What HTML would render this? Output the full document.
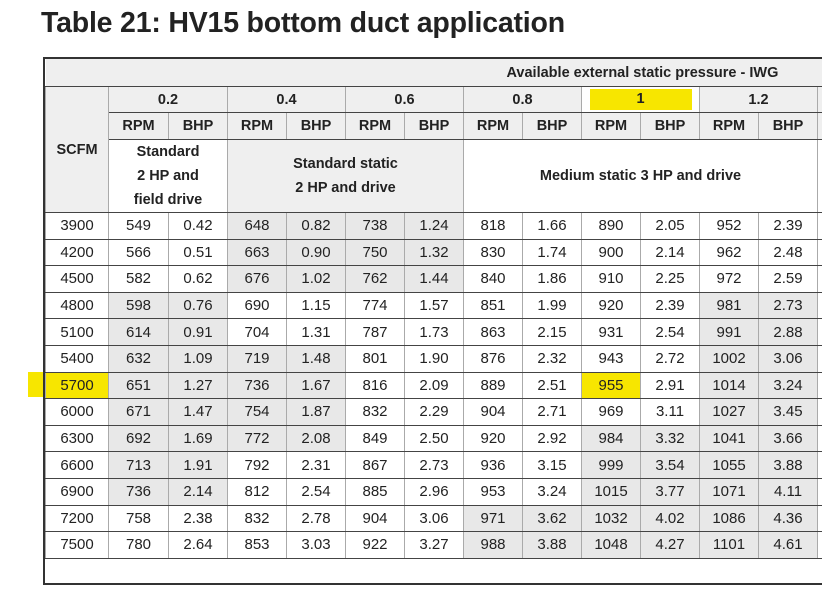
<!DOCTYPE html>
<html><head><meta charset="utf-8"><style>
html,body{margin:0;padding:0;background:#fff;width:822px;height:603px;overflow:hidden;font-family:"Liberation Sans",sans-serif;color:#222}
h1{position:absolute;left:41px;top:7px;margin:0;font-size:28.5px;font-weight:bold;color:#222;letter-spacing:-0.2px}
.wrap{position:absolute;left:43px;top:57px;width:900px;height:528px;border:2px solid #333;border-right:none;box-sizing:border-box;background:#fff}
table{position:absolute;left:0;top:0;border-collapse:collapse;table-layout:fixed;width:830px}
td{border-left:1px solid #aaa;border-right:1px solid #aaa;border-bottom:1.5px solid #444;text-align:center;padding:0;font-size:15px;color:#222;overflow:hidden;white-space:nowrap}
.h td,td.h{font-weight:bold;font-size:14.5px}
tr.top td{height:27px;background:#efefef;text-align:right;padding-right:0;border-left:none}
tr.p td{height:25px;background:#efefef}
tr.r td{height:26px;background:#efefef}
tr.d td{height:25.6px}
.g{background:#e8e8e8}
.y{background:#f7e600}
.desc{white-space:normal;line-height:24px;font-weight:bold;font-size:14.5px}
.hl{position:absolute;left:28px;top:372px;width:80px;height:25px;background:#f7e600}
</style></head><body>
<div class="hl"></div>
<h1>Table 21: HV15 bottom duct application</h1>
<div class="wrap">
<table>
<colgroup><col style="width:63px"><col style="width:60px"><col style="width:59px"><col style="width:59px"><col style="width:59px"><col style="width:59px"><col style="width:59px"><col style="width:59px"><col style="width:59px"><col style="width:59px"><col style="width:59px"><col style="width:59px"><col style="width:59px"><col style="width:60px"></colgroup>
<tr class="top h"><td colspan="14" style="text-align:left;padding-left:461px">Available external static pressure - IWG</td></tr>
<tr class="p h"><td rowspan="3" style="background:#efefef;border-bottom:1.5px solid #444">SCFM</td><td colspan="2">0.2</td><td colspan="2">0.4</td><td colspan="2">0.6</td><td colspan="2">0.8</td><td colspan="2" style="background:#fff"><span style="display:inline-block;background:#f7e600;width:102px;height:21px;line-height:21px">1</span></td><td colspan="2">1.2</td><td></td></tr>
<tr class="r h"><td>RPM</td><td>BHP</td><td>RPM</td><td>BHP</td><td>RPM</td><td>BHP</td><td>RPM</td><td>BHP</td><td>RPM</td><td>BHP</td><td>RPM</td><td>BHP</td><td></td></tr>
<tr><td colspan="2" class="desc" style="height:72px;background:#fff">Standard<br>2 HP and<br>field drive</td><td colspan="4" class="desc" style="background:#efefef">Standard static<br>2 HP and drive</td><td colspan="6" class="desc" style="background:#fff">Medium static 3 HP and drive</td><td style="background:#fff"></td></tr>
<tr class="d"><td>3900</td><td>549</td><td>0.42</td><td class="g">648</td><td class="g">0.82</td><td class="g">738</td><td class="g">1.24</td><td>818</td><td>1.66</td><td>890</td><td>2.05</td><td>952</td><td>2.39</td><td></td></tr>
<tr class="d"><td>4200</td><td>566</td><td>0.51</td><td class="g">663</td><td class="g">0.90</td><td class="g">750</td><td class="g">1.32</td><td>830</td><td>1.74</td><td>900</td><td>2.14</td><td>962</td><td>2.48</td><td></td></tr>
<tr class="d"><td>4500</td><td>582</td><td>0.62</td><td class="g">676</td><td class="g">1.02</td><td class="g">762</td><td class="g">1.44</td><td>840</td><td>1.86</td><td>910</td><td>2.25</td><td>972</td><td>2.59</td><td></td></tr>
<tr class="d"><td>4800</td><td class="g">598</td><td class="g">0.76</td><td>690</td><td>1.15</td><td>774</td><td>1.57</td><td>851</td><td>1.99</td><td>920</td><td>2.39</td><td class="g">981</td><td class="g">2.73</td><td></td></tr>
<tr class="d"><td>5100</td><td class="g">614</td><td class="g">0.91</td><td>704</td><td>1.31</td><td>787</td><td>1.73</td><td>863</td><td>2.15</td><td>931</td><td>2.54</td><td class="g">991</td><td class="g">2.88</td><td></td></tr>
<tr class="d"><td>5400</td><td class="g">632</td><td class="g">1.09</td><td class="g">719</td><td class="g">1.48</td><td>801</td><td>1.90</td><td>876</td><td>2.32</td><td>943</td><td>2.72</td><td class="g">1002</td><td class="g">3.06</td><td></td></tr>
<tr class="d"><td class="y">5700</td><td class="g">651</td><td class="g">1.27</td><td class="g">736</td><td class="g">1.67</td><td>816</td><td>2.09</td><td>889</td><td>2.51</td><td class="y">955</td><td>2.91</td><td class="g">1014</td><td class="g">3.24</td><td></td></tr>
<tr class="d"><td>6000</td><td class="g">671</td><td class="g">1.47</td><td class="g">754</td><td class="g">1.87</td><td>832</td><td>2.29</td><td>904</td><td>2.71</td><td>969</td><td>3.11</td><td class="g">1027</td><td class="g">3.45</td><td></td></tr>
<tr class="d"><td>6300</td><td class="g">692</td><td class="g">1.69</td><td class="g">772</td><td class="g">2.08</td><td>849</td><td>2.50</td><td>920</td><td>2.92</td><td class="g">984</td><td class="g">3.32</td><td class="g">1041</td><td class="g">3.66</td><td></td></tr>
<tr class="d"><td>6600</td><td class="g">713</td><td class="g">1.91</td><td>792</td><td>2.31</td><td>867</td><td>2.73</td><td>936</td><td>3.15</td><td class="g">999</td><td class="g">3.54</td><td class="g">1055</td><td class="g">3.88</td><td></td></tr>
<tr class="d"><td>6900</td><td class="g">736</td><td class="g">2.14</td><td>812</td><td>2.54</td><td>885</td><td>2.96</td><td>953</td><td>3.24</td><td class="g">1015</td><td class="g">3.77</td><td class="g">1071</td><td class="g">4.11</td><td></td></tr>
<tr class="d"><td>7200</td><td>758</td><td>2.38</td><td>832</td><td>2.78</td><td>904</td><td>3.06</td><td class="g">971</td><td class="g">3.62</td><td class="g">1032</td><td class="g">4.02</td><td class="g">1086</td><td class="g">4.36</td><td></td></tr>
<tr class="d"><td>7500</td><td>780</td><td>2.64</td><td>853</td><td>3.03</td><td>922</td><td>3.27</td><td class="g">988</td><td class="g">3.88</td><td class="g">1048</td><td class="g">4.27</td><td class="g">1101</td><td class="g">4.61</td><td></td></tr>
</table>
</div>
</body></html>
